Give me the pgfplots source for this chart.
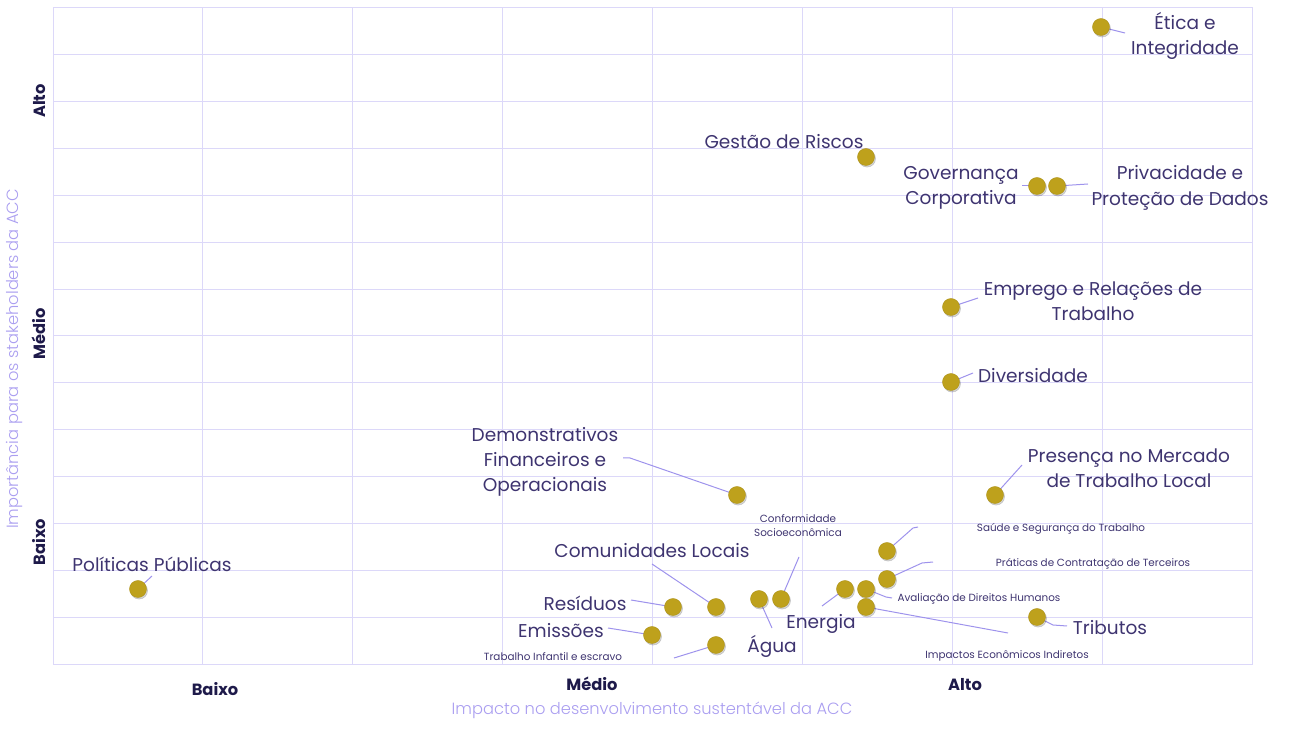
\documentclass[border=0pt]{standalone}
\usepackage{pgfplots}
\pgfplotsset{compat=1.18}
\usepackage{fontspec}
\setmainfont{Poppins}
\newfontfamily\lightfont{Poppins Light}
\definecolor{gridc}{RGB}{220,216,249}
\definecolor{goldc}{RGB}{190,161,28}
\definecolor{goldd}{RGB}{172,145,22}
\definecolor{labc}{RGB}{62,52,112}
\definecolor{leadc}{RGB}{158,147,236}
\definecolor{tickc}{RGB}{30,26,74}
\definecolor{titc}{RGB}{170,158,240}
\tikzset{
  lab/.style={text=labc, font=\fontsize{13.9}{19}\selectfont, align=center, inner sep=0pt, anchor=center},
  slab/.style={text=labc, font=\fontsize{7.8}{10.5}\selectfont, align=center, inner sep=0pt, anchor=center},
}
\pgfplotsset{leader/.style={leadc, line width=0.75pt, mark=none, forget plot}}
\begin{document}
\begin{tikzpicture}
\useasboundingbox (0,0) rectangle (967.5pt,546.75pt);
\begin{axis}[
  at={(39.75pt,48.75pt)}, anchor=south west,
  width=899.25pt, height=492pt, scale only axis,
  xmin=53, xmax=1252, ymin=-664, ymax=-8,
  axis line style={gridc, line width=0.75pt},
  xtick={215,592,965}, xticklabels={\raisebox{-3.75pt}{Baixo},Médio,Alto},
  ytick={-542,-334,-101}, yticklabels={Baixo,Médio,Alto},
  major tick length=0pt, minor tick length=0pt,
  minor xtick={202.875,352.75,502.625,652.5,802.375,952.25,1102.125},
  minor ytick={-617.143,-570.286,-523.429,-476.571,-429.714,-382.857,-336,-289.143,-242.286,-195.429,-148.571,-101.714,-54.857},
  xminorgrids=true, yminorgrids=true, xmajorgrids=false, ymajorgrids=false,
  minor grid style={gridc, line width=0.75pt},
  ticklabel style={font=\bfseries\fontsize{12.2}{14}\selectfont, text=tickc},
  xticklabel style={anchor=base},
  xticklabel shift=19.5pt,
  yticklabel style={rotate=90, anchor=base},
  yticklabel shift=5.5pt,
  xlabel={Impacto no desenvolvimento sustentável da ACC},
  xlabel style={at={(axis description cs:0.4996,-0.0701)}, anchor=center, font=\lightfont\fontsize{12.2}{14}\selectfont, text=titc},
  ylabel={Importância para os stakeholders da ACC},
  ylabel style={at={(axis description cs:-0.0325,0.465)}, anchor=center, font=\lightfont\fontsize{12.2}{14}\selectfont, text=titc},
  clip=false,
]
% shadow of markers
\addplot[only marks, mark=*, mark size=6.4pt, mark options={fill=black, draw=none, opacity=0.16, xshift=0.8pt, yshift=-1.2pt}, forget plot] table {
x y
1101 -27
866 -157
1037 -186
1057 -186
951 -307
951 -382
995 -495
737 -495
716 -607
673 -607
652 -635
716 -645
759 -599
781 -599
845 -589
866 -589
866 -607
887 -579
887 -551
1037 -617
138 -589
};
% markers
\addplot[only marks, mark=*, mark size=6.4pt, mark options={fill=goldc, draw=goldd, line width=0.3pt}] table {
x y
1101 -27
866 -157
1037 -186
1057 -186
951 -307
951 -382
995 -495
737 -495
716 -607
673 -607
652 -635
716 -645
759 -599
781 -599
845 -589
866 -589
866 -607
887 -579
887 -551
1037 -617
138 -589
};
% leader lines
\addplot[leader] coordinates {(1101,-27) (1125,-33)};
\addplot[leader] coordinates {(1022,-186) (1037,-186)};
\addplot[leader] coordinates {(1057,-186) (1088,-184)};
\addplot[leader] coordinates {(951,-307) (978,-298)};
\addplot[leader] coordinates {(951,-382) (973,-373)};
\addplot[leader] coordinates {(995,-495) (1022,-465)};
\addplot[leader] coordinates {(623,-458) (630,-458) (737,-495)};
\addplot[leader] coordinates {(652,-564) (716,-607)};
\addplot[leader] coordinates {(631,-600) (673,-607)};
\addplot[leader] coordinates {(608,-628) (652,-635)};
\addplot[leader] coordinates {(674,-658) (716,-645)};
\addplot[leader] coordinates {(759,-599) (772,-628)};
\addplot[leader] coordinates {(799,-557) (781,-599)};
\addplot[leader] coordinates {(822,-606) (845,-589)};
\addplot[leader] coordinates {(866,-589) (886,-597) (892,-598)};
\addplot[leader] coordinates {(866,-607) (1008,-633)};
\addplot[leader] coordinates {(887,-579) (922,-563) (933,-562)};
\addplot[leader] coordinates {(887,-551) (913,-528) (918,-527)};
\addplot[leader] coordinates {(1037,-617) (1053,-625) (1067,-626)};
\addplot[leader] coordinates {(138,-589) (152,-576)};
% labels
\node[lab] at (axis cs:1185,-36) {Ética e\\Integridade};
\node[lab] at (axis cs:784,-142) {Gestão de Riscos};
\node[lab] at (axis cs:961,-188) {Governança\\Corporativa};
\node[lab] at (axis cs:1180,-188) {Privacidade e\\Proteção de Dados};
\node[lab] at (axis cs:1093,-301) {Emprego e Relações de\\Trabalho};
\node[lab] at (axis cs:1033,-376) {Diversidade};
\node[lab] at (axis cs:1129,-468) {Presença no Mercado\\de Trabalho Local};
\node[lab] at (axis cs:545,-462) {Demonstrativos\\Financeiros e\\Operacionais};
\node[lab] at (axis cs:652,-551) {Comunidades Locais};
\node[lab] at (axis cs:585,-603) {Resíduos};
\node[lab] at (axis cs:561,-631) {Emissões};
\node[lab] at (axis cs:772,-646) {Água};
\node[lab] at (axis cs:821,-624) {Energia};
\node[lab] at (axis cs:1110,-628) {Tributos};
\node[lab] at (axis cs:152,-564) {Políticas Públicas};
\node[slab] at (axis cs:553,-657) {Trabalho Infantil e escravo};
\node[slab] at (axis cs:798,-526) {Conformidade\\Socioeconômica};
\node[slab] at (axis cs:979,-599) {Avaliação de Direitos Humanos};
\node[slab] at (axis cs:1007,-656) {Impactos Econômicos Indiretos};
\node[slab] at (axis cs:1093,-564) {Práticas de Contratação de Terceiros};
\node[slab] at (axis cs:1061,-529) {Saúde e Segurança do Trabalho};
\end{axis}
\end{tikzpicture}
\end{document}
